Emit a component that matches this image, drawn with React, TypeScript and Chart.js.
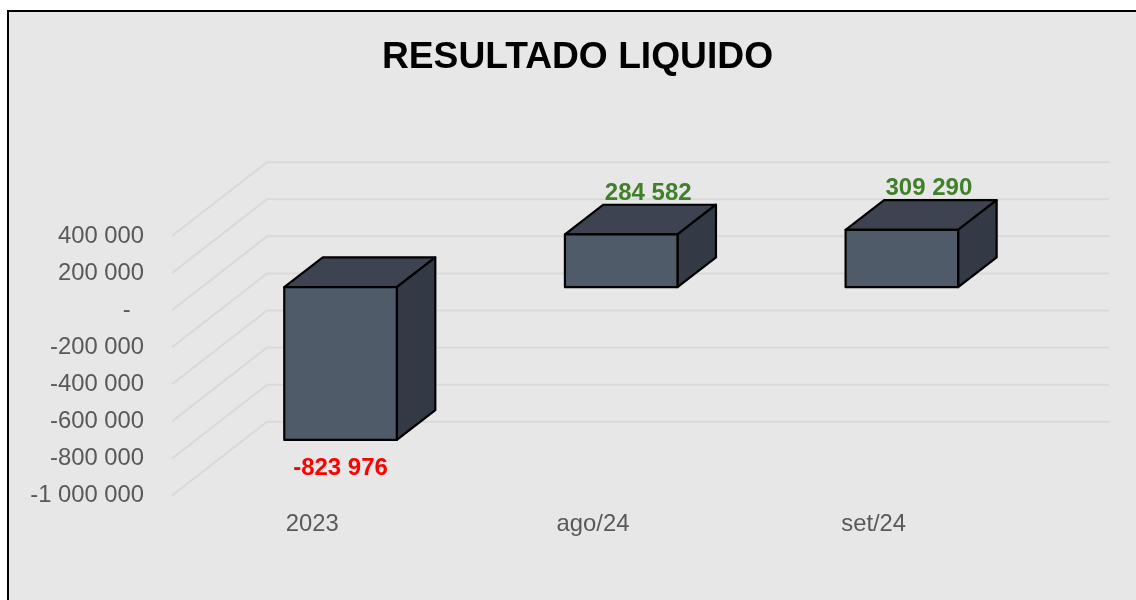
import React, { useEffect, useRef } from "react";
import { Chart, registerables } from "chart.js";

Chart.register(...registerables);

const categories = ["2023", "ago/24", "set/24"];
const resultado = [-823976, 284582, 309290];
const chartTitle = "RESULTADO LIQUIDO";

const FONT = "'Liberation Sans', Arial, sans-serif";
const WALL = { dx: 95, dy: -73.8 };
const PLANE = { dx: 28.2, dy: -23 };
const DEPTH = { dx: 38.5, dy: -29.7 };

const fmt = (v: number) => {
  if (v === 0) return "-  ";
  const s = Math.abs(v).toString().replace(/\B(?=(\d{3})+(?!\d))/g, " ");
  return (v < 0 ? "-" : "") + s;
};

const poly = (ctx: CanvasRenderingContext2D, pts: number[][], fill: string) => {
  ctx.beginPath();
  pts.forEach(([x, y], i) => (i ? ctx.lineTo(x, y) : ctx.moveTo(x, y)));
  ctx.closePath();
  ctx.fillStyle = fill;
  ctx.fill();
  ctx.lineWidth = 2.2;
  ctx.lineJoin = "round";
  ctx.strokeStyle = "#000";
  ctx.stroke();
};

const threeD = {
  id: "threeD",
  beforeDatasetsDraw(chart: any) {
    const { ctx, scales, chartArea } = chart;
    ctx.save();
    ctx.strokeStyle = "#d9d9d9";
    ctx.lineWidth = 2;
    scales.y.ticks.forEach((t: any) => {
      const py = scales.y.getPixelForValue(t.value);
      ctx.beginPath();
      ctx.moveTo(chartArea.left, py);
      ctx.lineTo(chartArea.left + WALL.dx, py + WALL.dy);
      ctx.lineTo(chartArea.right + WALL.dx, py + WALL.dy);
      ctx.stroke();
    });
    ctx.restore();
    ctx.save();
    ctx.translate(PLANE.dx, PLANE.dy);
    chart.getDatasetMeta(0).data.forEach((bar: any) => {
      const { x, y, base, width } = bar.getProps(["x", "y", "base", "width"], true);
      const l = x - width / 2, r = x + width / 2;
      const top = Math.min(y, base), bot = Math.max(y, base);
      poly(ctx, [[l, top], [l + DEPTH.dx, top + DEPTH.dy], [r + DEPTH.dx, top + DEPTH.dy], [r, top]], "#3d4350");
      poly(ctx, [[r, top], [r + DEPTH.dx, top + DEPTH.dy], [r + DEPTH.dx, bot + DEPTH.dy], [r, bot]], "#333a45");
    });
  },
  afterDatasetsDraw(chart: any) {
    const { ctx, data } = chart;
    ctx.lineWidth = 2.2;
    ctx.strokeStyle = "#000";
    chart.getDatasetMeta(0).data.forEach((bar: any) => {
      const { x, y, base, width } = bar.getProps(["x", "y", "base", "width"], true);
      ctx.strokeRect(x - width / 2, Math.min(y, base), width, Math.abs(base - y));
    });
    ctx.restore();
    ctx.save();
    ctx.font = `bold 24px ${FONT}`;
    ctx.textAlign = "center";
    ctx.textBaseline = "middle";
    chart.getDatasetMeta(0).data.forEach((bar: any, i: number) => {
      const v = data.datasets[0].data[i] as number;
      const { x, y } = bar.getProps(["x", "y"], true);
      const px = x + PLANE.dx + (v >= 0 ? 27 : 0);
      const py = y + PLANE.dy + (v >= 0 ? -41.2 : 28.7);
      ctx.fillStyle = v >= 0 ? "#41802a" : "#ff0000";
      ctx.fillText(fmt(v), px, py);
    });
    ctx.restore();
  },
};

export default function App() {
  const ref = useRef<HTMLCanvasElement>(null);
  useEffect(() => {
    const chart = new Chart(ref.current!, {
      type: "bar",
      plugins: [threeD],
      data: {
        labels: categories,
        datasets: [
          {
            data: resultado,
            backgroundColor: "#4f5b69",
            borderWidth: 0,
            barPercentage: 0.401,
            categoryPercentage: 1,
          },
        ],
      },
      options: {
        responsive: false,
        animation: false,
        layout: { padding: { left: 19, right: 0, top: 0, bottom: 0 } },
        plugins: {
          legend: { display: false },
          tooltip: { enabled: false },
          title: {
            display: true,
            text: chartTitle,
            color: "#000",
            font: { family: FONT, size: 37.2, weight: "bold", lineHeight: 1.2 },
            padding: { top: 35.5, bottom: 155.9 },
          },
        },
        scales: {
          x: {
            grid: { display: false, drawTicks: false },
            border: { display: false },
            ticks: { color: "#595959", font: { family: FONT, size: 23.8 }, padding: 15, maxRotation: 0 },
            afterFit: (s: any) => { s.height = 104.5; },
          },
          y: {
            min: -1000000,
            max: 400000,
            grid: { display: false, drawTicks: false },
            border: { display: false },
            ticks: {
              stepSize: 200000,
              color: "#595959",
              font: { family: FONT, size: 23.8 },
              padding: 28,
              callback: (v: any) => fmt(Number(v)),
            },
            afterFit: (s: any) => { s.width = 153; },
          },
          right: {
            position: "right",
            grid: { display: false, drawTicks: false },
            border: { display: false },
            ticks: { display: false },
            afterFit: (s: any) => { s.width = 122; },
          },
        },
      },
    } as any);
    return () => chart.destroy();
  }, []);
  return (
    <>
      <div
        style={{
          position: "fixed", left: 7, top: 10, width: 1140, height: 600,
          boxSizing: "border-box", background: "#e7e7e7",
          borderLeft: "2px solid #000", borderTop: "2px solid #000",
        }}
      />
      <canvas
        ref={ref}
        width={1136}
        height={600}
        style={{ position: "fixed", left: 0, top: 0, display: "block" }}
      />
    </>
  );
}
